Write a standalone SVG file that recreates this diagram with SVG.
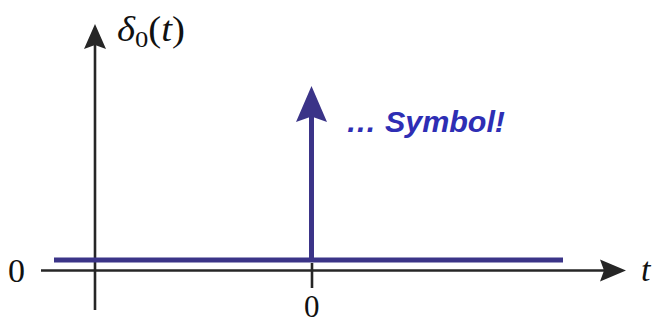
<svg xmlns="http://www.w3.org/2000/svg" width="656" height="324" viewBox="0 0 656 324">
<style>
.ax{stroke:#262626;stroke-width:2.6;fill:none}
.axh{fill:#262626}
.sig{stroke:#3b3488;stroke-width:5;fill:none}
.sigh{fill:#3b3488}
.math{font-family:"Liberation Serif","DejaVu Serif",serif;fill:#111}
.note{font-family:"Liberation Sans",Arial,sans-serif;font-weight:bold;font-style:italic;fill:#2e2eb4}
</style>
<rect width="656" height="324" fill="#fff"/>
<g id="axes">
<line class="ax" x1="95" y1="310" x2="95" y2="44"/>
<path class="axh" d="M95,24 L106,49 L95,45 L84,49 Z"/>
<line class="ax" x1="41" y1="270.5" x2="606" y2="270.5"/>
<path class="axh" d="M626,270.5 L600,259.5 L604,270.5 L600,281.5 Z"/>
<line class="ax" x1="312" y1="263" x2="312" y2="288"/>
</g>
<g id="signal">
<line class="sig" x1="54" y1="260" x2="563" y2="260"/>
<line class="sig" x1="311.5" y1="262" x2="311.5" y2="115"/>
<path class="sigh" d="M311.5,86 L327,122 L311.5,116.5 L296,122 Z"/>
</g>
<g id="labels">
<text class="math" x="117" y="41" font-size="35" textLength="68" lengthAdjust="spacingAndGlyphs"><tspan font-style="italic">δ</tspan><tspan font-size="24" dy="6">0</tspan><tspan dy="-6">(</tspan><tspan font-style="italic">t</tspan>)</text>
<text class="math" x="8" y="282" font-size="34">0</text>
<text class="math" x="304" y="316.5" font-size="31">0</text>
<text class="math" x="641" y="281" font-size="34" font-style="italic">t</text>
<text class="note" x="346" y="132" font-size="30" textLength="159" lengthAdjust="spacingAndGlyphs">… Symbol!</text>
</g>
</svg>
